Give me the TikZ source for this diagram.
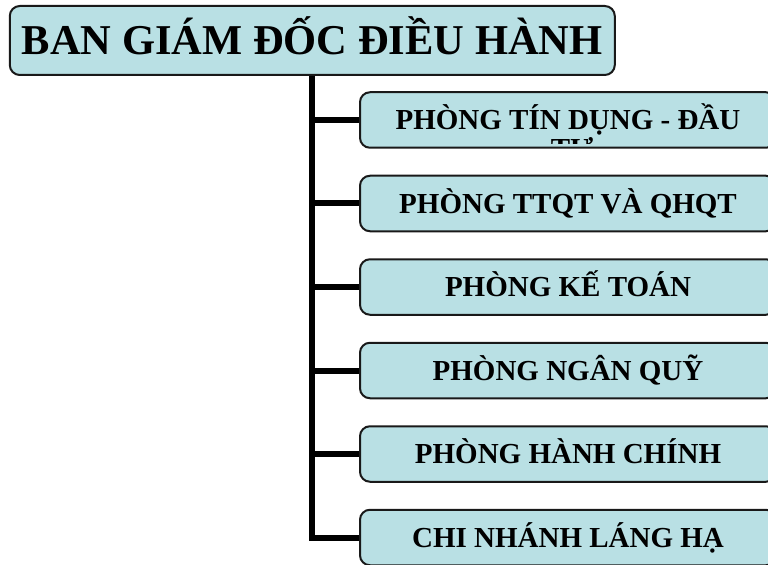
\documentclass[tikz,border=0pt]{standalone}
\usepackage{fontspec}
\setmainfont{Liberation Serif}
\usetikzlibrary{backgrounds}
\definecolor{boxfill}{RGB}{185,224,228}
\definecolor{boxline}{RGB}{25,25,25}
\begin{document}
\begin{tikzpicture}[x=1bp,y=-1bp,
  box/.style={draw=boxline, line width=2bp, fill=boxfill, rounded corners=10bp,
    inner sep=0pt, text height=19.2bp, text depth=0pt,
    minimum width=416bp, minimum height=55.5bp,
    font=\bfseries\fontsize{29bp}{32bp}\selectfont},
  titlebox/.style={box, text height=28.1bp, minimum width=605bp, minimum height=69bp,
    font=\bfseries\fontsize{42.5bp}{48bp}\selectfont},
  conn/.style={line width=6bp, draw=black, line join=miter}]
\clip (0,0) rectangle (768,565);
\node[titlebox] (title) at (312.3,40.5) {BAN GIÁM ĐỐC ĐIỀU HÀNH};
\node[box] (b1) at (568,120) {PHÒNG TÍN DỤNG - ĐẦU};
\node[box] (b2) at (568,203.5) {PHÒNG TTQT VÀ QHQT};
\node[box] (b3) at (568,287) {PHÒNG KẾ TOÁN};
\node[box] (b4) at (568,370.5) {PHÒNG NGÂN QUỸ};
\node[box] (b5) at (568,454) {PHÒNG HÀNH CHÍNH};
\node[box] (b6) at (568,537.5) {CHI NHÁNH LÁNG HẠ};
\begin{scope}
  \clip (360,92) rectangle (776,144);
  \node[anchor=base, inner sep=0pt, font=\bfseries\fontsize{29bp}{32bp}\selectfont] (b1b) at (572,159) {TƯ};
\end{scope}
\begin{pgfonlayer}{background}
  \draw[conn] (title.south) |- (b6.west);
  \foreach \i in {1,...,5}
    \draw[conn] (b\i.west) -- (b\i.west -| title.south);
\end{pgfonlayer}
\end{tikzpicture}
\end{document}
